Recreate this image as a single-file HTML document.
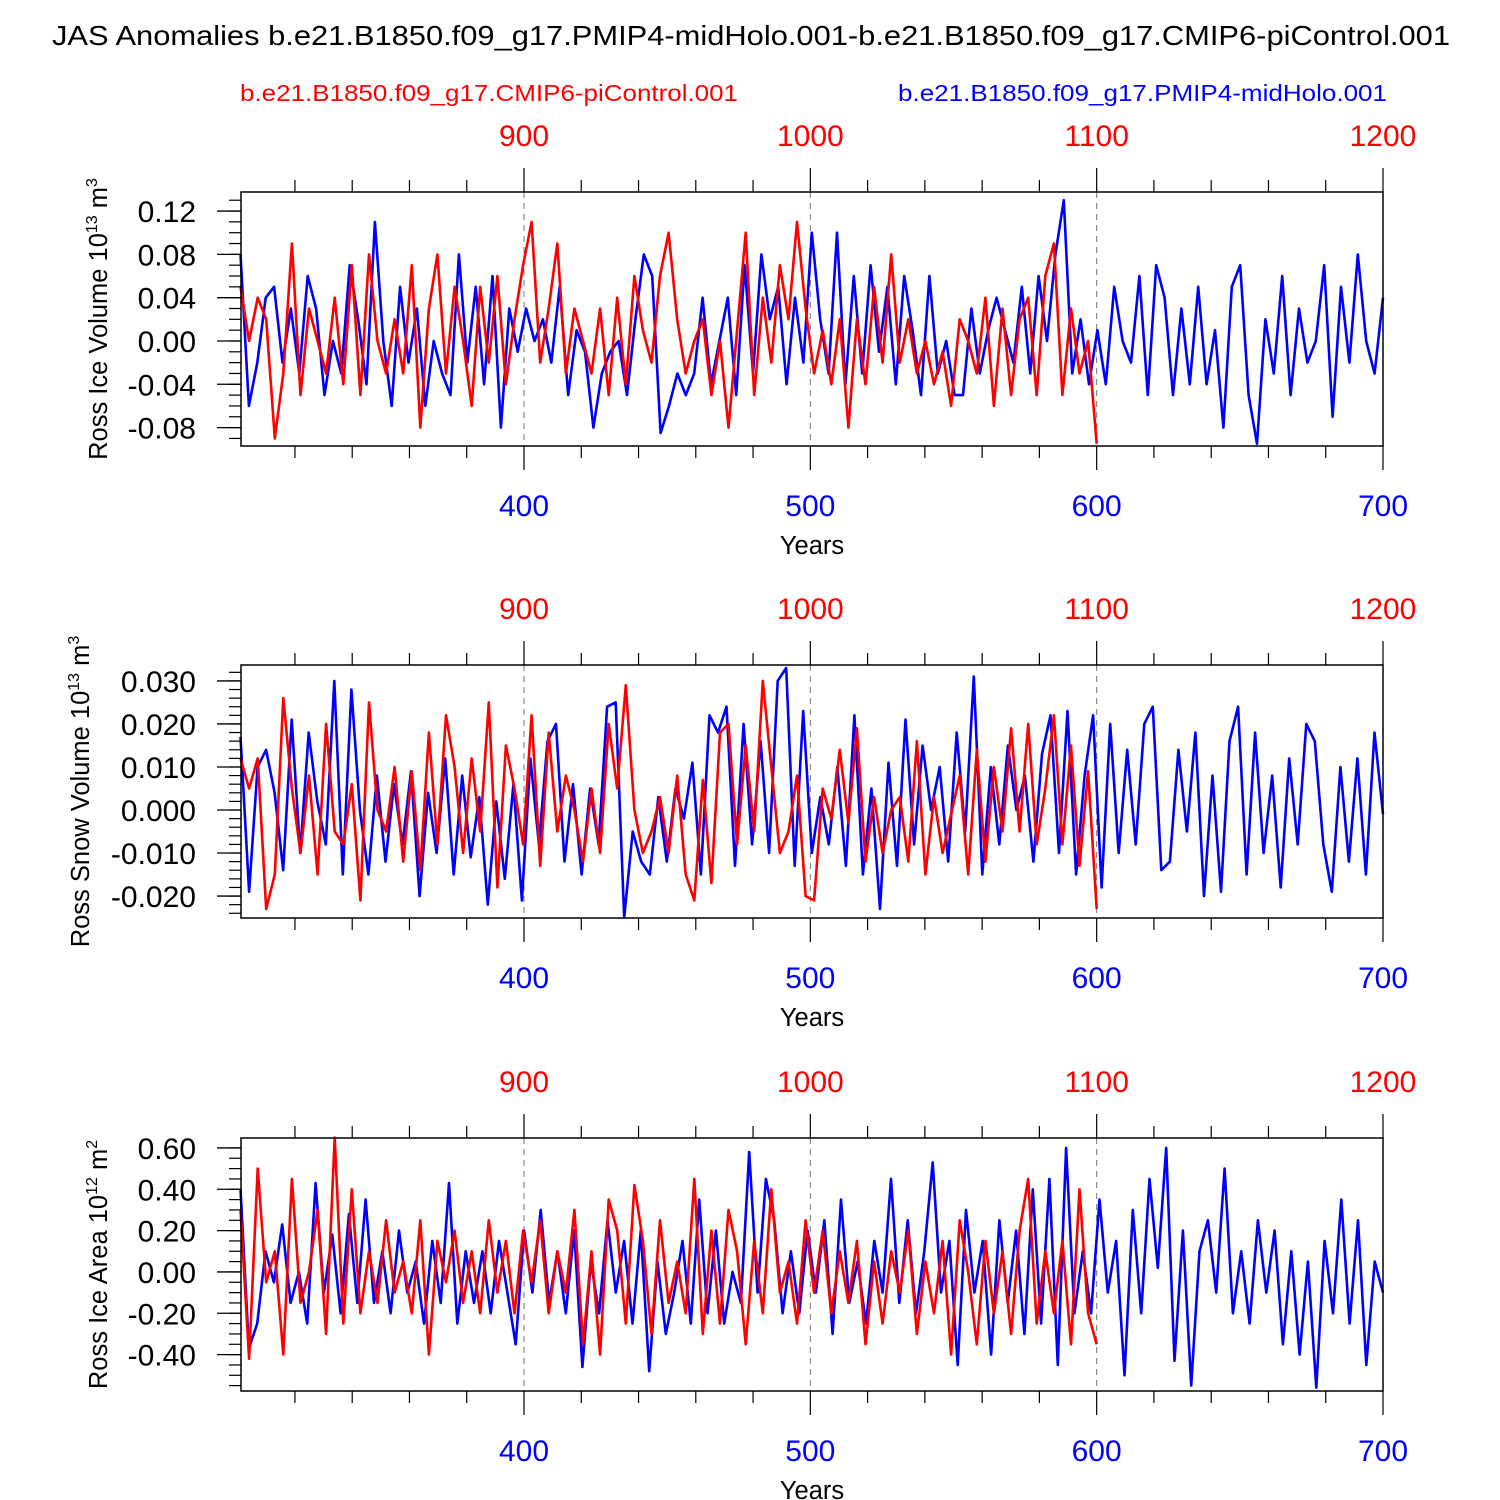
<!DOCTYPE html>
<html><head><meta charset="utf-8">
<style>
html,body{margin:0;padding:0;background:#fff;}
svg{display:block;font-family:"Liberation Sans",Arial,sans-serif;}
</style></head>
<body>
<svg id="chart" width="1500" height="1500" viewBox="0 0 1500 1500" xmlns="http://www.w3.org/2000/svg">
<text x="52" y="45" font-size="28" textLength="1398" lengthAdjust="spacingAndGlyphs" fill="#000">JAS Anomalies b.e21.B1850.f09_g17.PMIP4-midHolo.001-b.e21.B1850.f09_g17.CMIP6-piControl.001</text>
<text x="240" y="101" font-size="23" textLength="498" lengthAdjust="spacingAndGlyphs" fill="#ff0000">b.e21.B1850.f09_g17.CMIP6-piControl.001</text>
<text x="898" y="101" font-size="23" textLength="489" lengthAdjust="spacingAndGlyphs" fill="#0000ff">b.e21.B1850.f09_g17.PMIP4-midHolo.001</text>
</svg>
<script>
const blueYears = [301, 700];
const redYears = [801, 1100];
const bottomTicks = [400, 500, 600, 700];
const topTicks = [900, 1000, 1100, 1200];

const iceVolBlue = [0.08,-0.06,-0.02,0.04,0.05,-0.02,0.03,-0.03,0.06,0.03,-0.05,0.00,-0.03,0.07,
0.02,-0.04,0.11,0.00,-0.06,0.05,-0.02,0.03,-0.06,0.00,-0.03,-0.05,0.08,-0.02,0.05,-0.04,0.06,-0.08,0.03,-0.01,
0.03,0.00,0.02,-0.02,0.05,-0.05,0.01,-0.01,-0.08,-0.03,-0.01,0.00,-0.05,0.02,0.08,0.06,-0.085,-0.06,-0.03,-0.05,-0.03,0.04,-0.04,0.00,0.04,-0.05,
0.07,-0.03,0.08,0.02,0.05,-0.04,0.04,-0.02,0.10,0.02,-0.03,0.10,-0.04,0.06,-0.03,0.07,-0.01,0.05,-0.04,0.06,
0.01,-0.05,0.06,-0.03,0.00,-0.05,-0.05,0.03,-0.03,0.01,0.04,0.01,-0.02,0.05,-0.03,0.06,0.00,0.08,0.13,-0.03,0.02,-0.04,0.01,-0.04,0.05,0.00,-0.02,0.06,
-0.05,0.07,0.04,-0.05,0.03,-0.04,0.05,-0.04,0.01,-0.08,0.05,0.07,-0.05,-0.095,0.02,-0.03,0.06,-0.05,0.03,-0.02,0.00,0.07,-0.07,0.05,-0.02,0.08,0.00,-0.03,0.04];
const iceVolRed = [0.05,0.00,0.04,0.02,-0.09,-0.03,0.09,-0.05,0.03,0.00,-0.03,0.04,-0.04,0.07,-0.05,0.08,0.00,-0.03,0.02,-0.03,0.07,-0.08,0.03,0.08,-0.03,0.05,0.00,-0.06,0.05,-0.02,0.06,-0.04,0.02,0.07,0.11,-0.02,0.03,0.09,-0.03,0.03,0.00,-0.03,0.03,-0.05,0.04,-0.04,0.06,0.01,-0.02,0.06,0.10,0.02,-0.03,0.00,0.02,-0.05,0.00,-0.08,0.01,0.10,-0.05,0.04,-0.02,0.07,0.02,0.11,0.03,-0.03,0.01,-0.04,0.02,-0.08,0.02,-0.04,0.05,-0.02,0.08,-0.02,0.02,-0.03,0.00,-0.04,-0.01,-0.06,0.02,0.00,-0.03,0.04,-0.06,0.03,-0.05,0.02,0.04,-0.05,0.06,0.09,-0.05,0.03,-0.03,0.00,-0.095];

const snowVolBlue = [0.017,-0.019,0.010,0.014,0.004,-0.014,0.021,-0.010,0.018,0.002,-0.008,0.030,-0.015,0.028,0.000,-0.015,0.008,-0.012,0.006,-0.008,0.009,-0.020,0.004,-0.010,0.012,-0.015,0.008,-0.011,0.003,-0.022,0.002,-0.016,0.006,-0.021,0.012,-0.008,0.016,0.020,-0.012,0.006,-0.015,0.005,-0.008,0.024,0.025,-0.025,-0.005,-0.012,-0.015,0.003,-0.012,0.005,-0.002,0.011,-0.015,0.022,0.018,0.024,-0.013,0.020,-0.008,0.016,-0.010,0.030,0.033,-0.013,0.023,-0.010,0.003,-0.008,0.010,-0.013,0.022,-0.015,0.005,-0.023,0.011,-0.013,0.021,-0.008,0.015,0.000,0.010,-0.012,0.018,-0.005,0.031,-0.015,0.010,-0.008,0.015,0.000,0.008,-0.012,0.013,0.022,-0.010,0.023,-0.015,0.008,0.022,-0.018,0.020,-0.010,0.014,-0.008,0.020,0.024,-0.014,-0.012,0.014,-0.005,0.018,-0.020,0.008,-0.019,0.016,0.024,-0.015,0.018,-0.010,0.008,-0.018,0.012,-0.008,0.020,0.016,-0.008,-0.019,0.010,-0.012,0.012,-0.015,0.018,-0.001];
const snowVolRed = [0.012,0.005,0.012,-0.023,-0.015,0.026,0.005,-0.010,0.008,-0.015,0.020,-0.005,-0.008,0.006,-0.021,0.025,0.000,-0.005,0.010,-0.012,0.009,-0.014,0.018,-0.008,0.022,0.010,-0.010,0.012,-0.005,0.025,-0.018,0.015,0.005,-0.008,0.022,-0.013,0.018,-0.005,0.008,0.000,-0.012,0.005,-0.010,0.020,0.005,0.029,0.000,-0.010,-0.005,0.003,-0.010,0.008,-0.015,-0.021,0.007,-0.017,0.018,0.020,-0.008,0.015,-0.005,0.030,0.010,-0.010,-0.005,0.008,-0.020,-0.021,0.005,-0.002,0.014,-0.003,0.019,-0.012,0.003,-0.010,0.000,0.003,-0.012,0.016,-0.015,0.003,-0.010,-0.001,0.008,-0.015,0.014,-0.012,0.010,-0.005,0.019,-0.005,0.020,-0.008,0.005,0.022,-0.008,0.015,-0.013,0.009,-0.023];

const areaBlue = [0.40,-0.37,-0.25,0.10,-0.05,0.23,-0.15,0.00,-0.25,0.43,-0.10,0.18,-0.20,0.28,-0.15,0.35,-0.15,0.10,-0.20,0.20,-0.10,0.05,-0.25,0.15,-0.15,0.43,-0.25,0.10,-0.15,0.10,-0.20,0.15,-0.10,-0.35,0.20,-0.10,0.30,-0.15,0.10,-0.20,0.20,-0.46,0.05,-0.20,0.25,-0.10,0.15,-0.25,0.20,-0.48,0.05,-0.30,-0.10,0.15,-0.25,0.35,-0.20,0.20,-0.25,0.00,-0.15,0.58,-0.10,0.45,0.25,-0.20,0.10,-0.20,0.20,-0.10,0.25,-0.30,0.35,-0.15,0.05,-0.25,0.15,-0.10,0.45,-0.15,0.25,-0.20,0.10,0.53,-0.10,0.15,-0.45,0.30,-0.10,0.15,-0.40,0.25,-0.15,0.20,-0.30,0.40,-0.25,0.45,-0.45,0.60,-0.20,0.10,-0.20,0.35,-0.10,0.15,-0.50,0.30,-0.20,0.45,0.02,0.60,-0.43,0.20,-0.55,0.10,0.25,-0.10,0.50,-0.20,0.10,-0.25,0.25,-0.10,0.20,-0.35,0.10,-0.40,0.05,-0.56,0.15,-0.20,0.35,-0.25,0.25,-0.45,0.05,-0.10];
const areaRed = [0.30,-0.42,0.50,-0.05,0.10,-0.40,0.45,-0.15,0.00,0.30,-0.30,0.65,-0.25,0.40,-0.20,0.10,-0.15,0.25,-0.10,0.05,-0.20,0.25,-0.40,0.15,-0.05,0.20,-0.15,0.10,-0.20,0.25,-0.10,0.15,-0.20,0.20,-0.05,0.25,-0.20,0.10,-0.10,0.30,-0.35,0.10,-0.40,0.35,0.20,-0.25,0.42,0.15,-0.30,0.25,-0.15,0.05,-0.20,0.45,-0.30,0.20,-0.25,0.30,0.10,-0.35,0.15,-0.20,0.40,-0.10,0.05,-0.25,0.25,-0.10,0.20,-0.20,0.10,-0.15,0.15,-0.35,0.05,-0.25,0.10,-0.10,0.20,-0.30,0.05,-0.20,0.15,-0.40,0.25,0.00,-0.35,0.15,-0.20,0.10,-0.30,0.20,0.45,-0.25,0.10,-0.20,0.15,-0.35,0.40,-0.20,-0.35];

const yTicks1 = [0.12,0.08,0.04,0.00,-0.04,-0.08];
const yLabels1 = ["0.12","0.08","0.04","0.00","-0.04","-0.08"];
const yTicks2 = [0.03,0.02,0.01,0.00,-0.01,-0.02];
const yLabels2 = ["0.030","0.020","0.010","0.000","-0.010","-0.020"];
const yTicks3 = [0.6,0.4,0.2,0.0,-0.2,-0.4];
const yLabels3 = ["0.60","0.40","0.20","0.00","-0.20","-0.40"];

const NS = "http://www.w3.org/2000/svg";
const svg = document.getElementById('chart');
const X0 = 241, X1 = 1383;
function xScale(year){ return 524 + (year - 400) * (X1 - 524) / 300; }
function mk(tag, attrs, parent){
  const e = document.createElementNS(NS, tag);
  for (const k in attrs) e.setAttribute(k, attrs[k]);
  (parent || svg).appendChild(e);
  return e;
}

function panel(cfg){
  const g = mk('g', {});
  
  
  const yScale = v => cfg.top + (cfg.vmax - v) / (cfg.vmax - cfg.vmin) * (cfg.bottom - cfg.top);
  [400,500,600].forEach(yr => {
    const l = mk('line', {x1:xScale(yr), x2:xScale(yr), y1:cfg.top, y2:cfg.bottom, stroke:'#777', 'stroke-width':1, 'stroke-dasharray':'6,5'}, g);
    
    
  });
  function series(vals, yrs, color, nm){
    const n = vals.length;
    const pts = vals.map((v,i) => {
      const yr = yrs[0] + i * (yrs[1] - yrs[0]) / (n - 1);
      const bx = yrs[0] > 700 ? yr - 500 : yr;
      return xScale(bx).toFixed(1) + ',' + yScale(v).toFixed(1);
    }).join(' ');
    const p = mk('polyline', {points:pts, fill:'none', stroke:color, 'stroke-width':2.6, 'stroke-linejoin':'round'}, g);
    
    
  }
  series(cfg.blue, blueYears, '#0000ff', 'midholo-line');
  series(cfg.red, redYears, '#ff0000', 'picontrol-line');
  const fr = mk('rect', {x:X0, y:cfg.top, width:X1-X0, height:cfg.bottom-cfg.top, fill:'none', stroke:'#000', 'stroke-width':1.5}, g);
  
  
  for (let yr = 320; yr <= 700; yr += 20){
    const major = yr % 100 === 0;
    const len = major ? 24 : 12;
    mk('line', {x1:xScale(yr), x2:xScale(yr), y1:cfg.bottom, y2:cfg.bottom + len, stroke:'#000', 'stroke-width':1.2}, g);
    mk('line', {x1:xScale(yr), x2:xScale(yr), y1:cfg.top, y2:cfg.top - len, stroke:'#000', 'stroke-width':1.2}, g);
  }
  bottomTicks.forEach(t => {
    const tx = mk('text', {x:xScale(t), y:cfg.bottom + 70, 'font-size':30, 'text-anchor':'middle', fill:'#0000ff'}, g);
    tx.textContent = t;
    
    
  });
  topTicks.forEach((t,i) => {
    const tx = mk('text', {x:xScale(bottomTicks[i]), y:cfg.top - 46, 'font-size':30, 'text-anchor':'middle', fill:'#ff0000'}, g);
    tx.textContent = t;
    
    
  });
  const xt = mk('text', {x:812, y:cfg.bottom + 108, 'font-size':25.5, 'text-anchor':'middle', fill:'#000'}, g);
  xt.textContent = 'Years';
  
  
  for (let v = cfg.minorStart; v >= cfg.vmin - 1e-9; v -= cfg.minor){
    mk('line', {x1:X0, x2:X0-12, y1:yScale(v), y2:yScale(v), stroke:'#000', 'stroke-width':1.2}, g);
  }
  cfg.ticks.forEach((v,i) => {
    mk('line', {x1:X0, x2:X0-24, y1:yScale(v), y2:yScale(v), stroke:'#000', 'stroke-width':1.3}, g);
    const tx = mk('text', {x:196, y:yScale(v)+11, 'font-size':30, 'text-anchor':'end', fill:'#000'}, g);
    tx.textContent = cfg.labels[i];
    
    
  });
  const cy = (cfg.top + cfg.bottom) / 2;
  const yt = mk('text', {x:0, y:0, 'font-size':25.5, 'text-anchor':'middle', fill:'#000', transform:'translate(' + cfg.titleX + ',' + cy + ') rotate(-90)'}, g);
  
  
  yt.innerHTML = cfg.title + ' 10<tspan dy="-10" font-size="16">' + cfg.exp + '</tspan><tspan dy="10"> m</tspan><tspan dy="-10" font-size="16">' + cfg.unitExp + '</tspan>';
}

panel({name:'ice-volume-panel', top:192, bottom:446, vmin:-0.097, vmax:0.1376, blue:iceVolBlue, red:iceVolRed,
  ticks:yTicks1, labels:yLabels1, minor:0.01, minorStart:0.13, title:'Ross Ice Volume', exp:'13', unitExp:'3', titleX:107});
panel({name:'snow-volume-panel', top:665, bottom:918, vmin:-0.0251, vmax:0.0337, blue:snowVolBlue, red:snowVolRed,
  ticks:yTicks2, labels:yLabels2, minor:0.002, minorStart:0.032, title:'Ross Snow Volume', exp:'13', unitExp:'3', titleX:89});
panel({name:'ice-area-panel', top:1138, bottom:1391, vmin:-0.576, vmax:0.648, blue:areaBlue, red:areaRed,
  ticks:yTicks3, labels:yLabels3, minor:0.05, minorStart:0.6, title:'Ross Ice Area', exp:'12', unitExp:'2', titleX:107});
</script>
</body></html>
